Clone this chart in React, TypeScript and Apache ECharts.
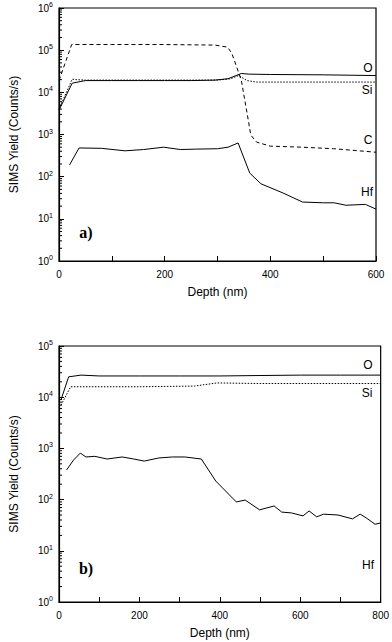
import React, { useEffect, useRef } from "react";
import * as echarts from "echarts";

// ---- Panel a) data: [depth nm, counts/s]
const aO: [number, number][] = [
  [0, 3800], [25, 16500], [50, 19000], [100, 19000], [150, 19000], [200, 19000], [250, 19000],
  [295, 19500], [320, 21000], [345, 28000], [360, 27000], [400, 26500], [500, 26000], [600, 25000],
];
const aSi: [number, number][] = [
  [0, 4000], [25, 20500], [32, 20000], [50, 19500], [100, 19500], [200, 19500], [300, 19500],
  [325, 21000], [340, 25000], [356, 19000], [374, 17500], [400, 17500], [500, 17500], [600, 17500],
];
const aC: [number, number][] = [
  [0, 19000], [24, 136000], [100, 136000], [200, 136000], [295, 132000], [319, 118000], [327, 85000],
  [345, 19500], [356, 3200], [363, 970], [374, 660], [400, 530], [460, 500], [520, 460], [600, 380],
];
const aHf: [number, number][] = [
  [20, 190], [38, 480], [80, 470], [125, 410], [160, 440], [198, 500], [230, 440], [259, 450],
  [300, 460], [320, 500], [339, 630], [361, 122], [382, 68], [424, 41], [461, 25], [501, 24],
  [521, 24], [543, 21], [580, 22], [600, 17],
];

// ---- Panel b) data
const bO: [number, number][] = [
  [5, 8900], [24, 25000], [55, 27000], [100, 26000], [200, 26000], [300, 26000], [400, 26000],
  [500, 26500], [600, 27000], [700, 27000], [800, 27000],
];
const bSi: [number, number][] = [
  [5, 7000], [29, 16000], [100, 16000], [200, 16000], [337, 16500], [393, 19000], [500, 18500],
  [600, 18500], [800, 18500],
];
const bHf: [number, number][] = [
  [19, 380], [36, 590], [53, 810], [67, 680], [89, 700], [120, 620], [157, 680], [186, 620],
  [212, 565], [248, 650], [282, 680], [313, 680], [354, 620], [390, 230], [441, 90], [463, 98],
  [499, 63], [535, 75], [554, 57], [578, 55], [607, 48], [622, 60], [641, 46], [658, 52],
  [694, 50], [730, 42], [749, 52], [764, 44], [786, 33], [800, 35],
];

// ---- axis settings
const aXMax = 600;
const bXMax = 800;
const aYMax = 1e6;
const bYMax = 1e5;
const minorMultipliers = [2, 3, 4, 5, 6, 7, 8, 9];

const FONT = "'Liberation Sans', Arial, sans-serif";

function minorValues(maxExp: number): number[] {
  const out: number[] = [];
  for (let e = 0; e < maxExp; e++) {
    for (const m of minorMultipliers) out.push(m * Math.pow(10, e));
  }
  return out;
}

export default function App() {
  const ref = useRef<HTMLDivElement>(null);
  useEffect(() => {
    if (!ref.current) return;
    const chart = echarts.init(ref.current, null, { renderer: "svg" });

    const yLabel = {
      fontFamily: FONT,
      color: "#000",
      margin: 6,
      formatter: (v: number) => `{b|10}{s|${Math.round(Math.log10(v))}}`,
      rich: {
        b: { fontSize: 10, fontFamily: FONT, color: "#000" },
        s: { fontSize: 7, fontFamily: FONT, color: "#000", padding: [0, 0, 7, 0] },
      },
    };

    const yAxisCommon = (max: number, gridIndex: number) => ({
      type: "log" as const,
      logBase: 10,
      min: 1,
      max,
      gridIndex,
      splitNumber: Math.round(Math.log10(max)),
      name: "SIMS Yield (Counts/s)",
      nameLocation: "middle" as const,
      nameGap: 39,
      nameTextStyle: { fontFamily: FONT, fontSize: 12, color: "#000" },
      axisLine: { show: true, lineStyle: { color: "#000", width: 1.2 } },
      axisTick: { show: true, inside: true, length: 5, lineStyle: { color: "#000" } },
      splitLine: { show: false },
      axisLabel: yLabel,
    });

    const xAxisCommon = (max: number, gridIndex: number) => ({
      type: "value" as const,
      min: 0,
      max,
      interval: 100,
      gridIndex,
      name: "Depth (nm)",
      nameLocation: "middle" as const,
      nameGap: 25,
      nameTextStyle: { fontFamily: FONT, fontSize: 12, color: "#000" },
      axisLine: { show: true, onZero: false, lineStyle: { color: "#000", width: 1.2 } },
      axisTick: { show: true, inside: true, length: 5, lineStyle: { color: "#000" } },
      splitLine: { show: false },
      axisLabel: {
        fontFamily: FONT,
        fontSize: 10,
        color: "#000",
        margin: 8,
        formatter: (v: number) => (v % 200 === 0 ? String(v) : ""),
      },
    });

    const lineSeries = (data: [number, number][], idx: number, type: any) => ({
      type: "line" as const,
      data,
      xAxisIndex: idx,
      yAxisIndex: idx,
      showSymbol: false,
      symbol: "none",
      lineStyle: { color: "#000", width: 1, type },
      z: 3,
    });

    const minorSeries = (maxExp: number, idx: number) => ({
      type: "custom" as const,
      xAxisIndex: idx,
      yAxisIndex: idx,
      data: minorValues(maxExp).map((v) => [0, v]),
      silent: true,
      renderItem: (_p: any, api: any) => {
        const pt = api.coord([0, api.value(1)]);
        return {
          type: "line",
          shape: { x1: pt[0], y1: pt[1], x2: pt[0] + 3, y2: pt[1] },
          style: { stroke: "#000", lineWidth: 1 },
        };
      },
      z: 4,
    });

    const txt = (text: string, x: number, y: number, extra: any = {}) => ({
      type: "text",
      x,
      y,
      style: {
        text,
        fill: "#000",
        font: `12px ${FONT}`,
        align: "center",
        verticalAlign: "middle",
        ...extra,
      },
      z: 10,
    });

    chart.setOption({
      animation: false,
      backgroundColor: "#fff",
      grid: [
        { left: 49, top: 8, width: 327, height: 253, show: true, borderColor: "#000", borderWidth: 1.2, backgroundColor: "transparent" },
        { left: 50, top: 346, width: 332, height: 256, show: true, borderColor: "#000", borderWidth: 1.2, backgroundColor: "transparent" },
      ],
      xAxis: [xAxisCommon(aXMax, 0), xAxisCommon(bXMax, 1)],
      yAxis: [yAxisCommon(aYMax, 0), yAxisCommon(bYMax, 1)],
      series: [
        lineSeries(aO, 0, "solid"),
        lineSeries(aSi, 0, [1.5, 1.5]),
        lineSeries(aC, 0, [4, 3]),
        lineSeries(aHf, 0, "solid"),
        minorSeries(6, 0),
        lineSeries(bO, 1, "solid"),
        lineSeries(bSi, 1, [1.5, 1.5]),
        lineSeries(bHf, 1, "solid"),
        minorSeries(5, 1),
      ],
      graphic: [
        txt("O", 368, 68),
        txt("Si", 367, 90),
        txt("C", 368, 140),
        txt("Hf", 367, 192),
        txt("a)", 86, 232, { font: `bold 16px 'Liberation Serif', 'Times New Roman', serif` }),
        txt("O", 368, 365),
        txt("Si", 367, 393),
        txt("Hf", 368, 565),
        txt("b)", 86, 568, { font: `bold 16px 'Liberation Serif', 'Times New Roman', serif` }),
      ],
    });
    return () => chart.dispose();
  }, []);
  return (
    <div
      ref={ref}
      style={{ position: "absolute", left: 0, top: 0, width: 392, height: 642 }}
    />
  );
}
